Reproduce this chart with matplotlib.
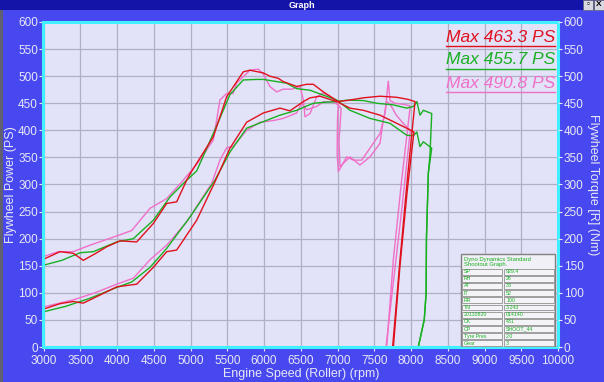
import matplotlib
matplotlib.use("Agg")
from matplotlib import pyplot as plt
from matplotlib.patches import Rectangle

# run 1 (red)
red_torque_rpm = [3000, 3225, 3405, 3541, 3700, 3860, 4041, 4268, 4494, 4676, 4812, 4948, 5000, 5310, 5492,
                  5718, 5809, 5990, 6080, 6194, 6262, 6444, 6580, 6671, 6807, 6943, 7034, 7170, 7351, 7578,
                  7760, 7941, 8040, 7950, 7850, 7760]
red_torque = [162, 176, 173, 160, 172, 185, 196, 194, 228, 265, 268, 308, 321, 388, 462,
              508, 511, 506, 500, 496, 490, 481, 485, 485, 471, 459, 450, 441, 437, 428,
              416, 404, 397, 290, 150, 0]
red_power_rpm = [3000, 3225, 3405, 3541, 3800, 3996, 4268, 4494, 4676, 4812, 5084, 5333, 5537, 5764, 5990,
                 6217, 6353, 6535, 6626, 6762, 6989, 7125, 7351, 7578, 7805, 7963, 8055, 7950, 7850, 7750]
red_power = [70, 80, 84, 81, 98, 111, 116, 147, 176, 179, 234, 305, 367, 415, 432,
             441, 436, 453, 460, 463, 453, 455, 460, 463, 461, 457, 453, 310, 160, 0]

# run 2 (green)
green_torque_rpm = [3000, 3250, 3497, 3678, 3996, 4222, 4494, 4721, 4948, 5084, 5310, 5537, 5718, 5900, 5990,
                    6172, 6308, 6444, 6626, 6807, 6989, 7170, 7442, 7714, 7941, 8032, 8080, 8122, 8168, 8282,
                    8236, 8210, 8206, 8180, 8099]
green_torque = [151, 160, 174, 176, 194, 200, 234, 277, 308, 325, 394, 466, 493, 494, 494,
                490, 487, 477, 474, 465, 456, 437, 422, 413, 391, 390, 397, 370, 379, 367,
                321, 200, 100, 50, 0]
green_power_rpm = [3000, 3300, 3633, 3996, 4200, 4449, 4676, 4993, 5333, 5537, 5764, 5990, 6217, 6444, 6671,
                   6850, 6989, 7125, 7351, 7533, 7760, 7941, 8032, 8080, 8122, 8168, 8282, 8258, 8236, 8210,
                   8206, 8180, 8099]
green_power = [65, 75, 90, 110, 120, 147, 182, 240, 308, 360, 404, 416, 428, 437, 450,
               452, 453, 455.7, 455, 450, 447, 441, 444, 453, 428, 437, 431, 354, 321, 200,
               100, 50, 0]

# run 3 (pink)
pink_torque_rpm = [3000, 3200, 3405, 3633, 3996, 4200, 4449, 4676, 4902, 5100, 5310, 5401, 5492, 5580, 5628,
                   5809, 5922, 5990, 6080, 6172, 6262, 6376, 6490, 6535, 6558, 6626, 6717, 6807, 6943, 7010,
                   7050, 7020, 7034, 7170, 7306, 7442, 7578, 7610, 7669, 7714, 7800, 7900, 7990, 7880, 7760, 7660]
pink_torque = [167, 176, 176, 188, 205, 215, 256, 274, 308, 340, 382, 456, 468, 468, 487,
               511, 513, 504, 481, 471, 476, 476, 481, 456, 425, 431, 462, 469, 459, 447,
               440, 380, 333, 351, 336, 351, 376, 407, 453, 449, 428, 412, 400, 260, 120, 0]
pink_power_rpm = [3000, 3405, 3700, 3996, 4222, 4449, 4676, 4948, 5288, 5401, 5492, 5580, 5764, 5945, 6126,
                  6262, 6444, 6512, 6580, 6717, 6807, 6943, 7010, 7000, 6995, 7012, 7125, 7215, 7329, 7487,
                  7578, 7646, 7669, 7691, 7714, 7780, 7900, 7990, 7873, 7759, 7669]
pink_power = [74, 87, 100, 116, 127, 161, 188, 231, 302, 345, 368, 370, 400, 415, 418,
              422, 432, 450, 438, 444, 453, 452, 447, 420, 357, 324, 351, 345, 345, 376,
              394, 431, 462, 490.8, 455, 450, 448, 445, 308, 160, 0]

max_labels = ["Max 463.3 PS", "Max 455.7 PS", "Max 490.8 PS"]
run_colors = ["#e0101c", "#18b020", "#f070c8"]

table_header = "Dyno Dynamics Standard\nShootout Graph."
table_keys = ["SP", "RH", "AT", "IT", "RR", "TN", "20110820", "CK", "CP", "Tyre Pres", "Gear"]
table_vals = ["929.4", "26", "33", "52", "100", "3.243", "014140", "431", "SHOOT_44", "2.0", "3"]

bg = "#4848f0"
txt = "#e8e8f4"

fig = plt.figure(figsize=(6.04, 3.82), dpi=100, facecolor=bg)
plt.rcParams['font.family'] = ['Liberation Sans', 'DejaVu Sans']

# window title bar
fig.patches.append(Rectangle((0, 372 / 382), 1, 10 / 382, transform=fig.transFigure,
                             facecolor="#1414a8", edgecolor="none", zorder=0))
fig.text(0.5, 377 / 382, "Graph", ha="center", va="center", color="white", fontsize=6.5, fontweight="bold")
for i, s in enumerate(["▫", "X"]):
    x0 = (583 + i * 11) / 604
    fig.patches.append(Rectangle((x0, 372 / 382), 10 / 604, 10 / 382, transform=fig.transFigure,
                                 facecolor="#d8d8e0", edgecolor="#606070", lw=0.5, zorder=1))
    fig.text(x0 + 5 / 604, 377 / 382, s, ha="center", va="center", color="black", fontsize=6,
             fontweight="bold", zorder=2)
fig.patches.append(Rectangle((0, 0), 3 / 604, 372 / 382, transform=fig.transFigure,
                             facecolor="#606070", edgecolor="none", zorder=0))

ax = fig.add_axes([43.5 / 604, 35 / 382, 514.5 / 604, 325 / 382])
ax.set_facecolor("#e2e2f8")
ax.set_xlim(3000, 10000)
ax.set_ylim(0, 600)
ax.set_xticks(range(3000, 10001, 500))
ax.set_yticks(range(0, 601, 50))
ax.grid(True, color="#b0b0c4", lw=0.9)
ax.set_axisbelow(True)
for sp in ax.spines.values():
    sp.set_color("#40f0ff")
    sp.set_linewidth(2.2)
ax.tick_params(colors=txt, labelsize=8.5, length=3, width=0.8, pad=1)
ax.tick_params(axis="x", pad=2.5)
ax.set_xlabel("Engine Speed (Roller) (rpm)", color=txt, fontsize=9, labelpad=1)
ax.set_ylabel("Flywheel Power (PS)", color=txt, fontsize=9, va="center")
ax.yaxis.set_label_coords(-0.064, 0.5)

ax2 = ax.twinx()
ax2.set_ylim(0, 600)
ax2.set_yticks(range(0, 601, 50))
ax2.tick_params(colors=txt, labelsize=8.5, length=3, width=0.8, pad=1)
ax2.set_ylabel("Flywheel Torque [R] (Nm)", color=txt, fontsize=9, rotation=270, va="center")
ax2.yaxis.set_label_coords(1.068, 0.5)
for sp in ax2.spines.values():
    sp.set_visible(False)

series = [
    (red_power_rpm, red_power, red_torque_rpm, red_torque),
    (green_power_rpm, green_power, green_torque_rpm, green_torque),
    (pink_power_rpm, pink_power, pink_torque_rpm, pink_torque),
]
for (prpm, pw, trpm, tq), c in zip(series[::-1], run_colors[::-1]):
    ax.plot(prpm, pw, color=c, lw=1.0)
    ax.plot(trpm, tq, color=c, lw=1.0)

# max power labels, underlined
for i, (lab, c) in enumerate(zip(max_labels, run_colors)):
    yb = 1 - (15 + 23 * i) / 325
    ax.text(0.994, yb, lab, transform=ax.transAxes, ha="right", va="center",
            color=c, fontsize=12.5, style="italic")
    ax.plot([0.782, 0.995], [yb - 9 / 325] * 2, transform=ax.transAxes, color=c, lw=1.0)

# info table
tx0, tx1, tmid = (460.7 - 43.5) / 514.5, (555 - 43.5) / 514.5, (503 - 43.5) / 514.5
ty_top, ty_head = 93 / 325, 79 / 325
ax.add_patch(Rectangle((tx0, 0), tx1 - tx0, ty_top, transform=ax.transAxes,
                       facecolor="#f0f0f6", edgecolor="#808080", lw=1.0, zorder=5))
ax.text(tx0 + 0.006, ty_top - 0.008, table_header, transform=ax.transAxes, ha="left", va="top",
        color="#18b020", fontsize=4.2, zorder=6, linespacing=1.0)
rh = ty_head / len(table_keys)
for i, (k, v) in enumerate(zip(table_keys, table_vals)):
    y0 = ty_head - (i + 1) * rh
    for xa, xb, s in [(tx0, tmid, k), (tmid, tx1, v)]:
        ax.add_patch(Rectangle((xa + 0.002, y0 + 0.002), xb - xa - 0.004, rh - 0.004,
                               transform=ax.transAxes, facecolor="#f4f4f8", edgecolor="#909090",
                               lw=0.6, zorder=6))
        ax.text(xa + 0.006, y0 + rh / 2, s, transform=ax.transAxes, ha="left", va="center",
                color="#18b020", fontsize=3.8, zorder=7)

fig.savefig("out.png", dpi=100, facecolor=bg)
